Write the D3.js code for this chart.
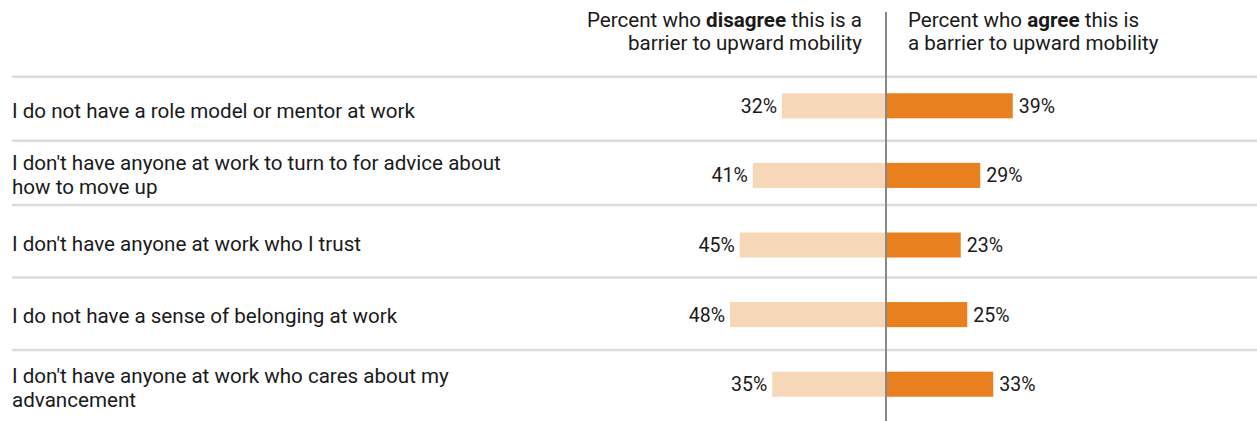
<!DOCTYPE html>
<html>
<head>
<meta charset="utf-8">
<script src="https://cdn.jsdelivr.net/npm/d3@7"></script>
<style>
  html, body { margin: 0; padding: 0; background: #fff; }
  svg { display: block; font-family: Roboto, "Liberation Sans", Arial, sans-serif; }
</style>
</head>
<body>
<svg id="chart" width="1257" height="421"></svg>
<script>
// ---- data ----
const categories = [
  "I do not have a role model or mentor at work",
  "I don't have anyone at work to turn to for advice about how to move up",
  "I don't have anyone at work who I trust",
  "I do not have a sense of belonging at work",
  "I don't have anyone at work who cares about my advancement"
];
const categoryLines = [
  ["I do not have a role model or mentor at work"],
  ["I don't have anyone at work to turn to for advice about", "how to move up"],
  ["I don't have anyone at work who I trust"],
  ["I do not have a sense of belonging at work"],
  ["I don't have anyone at work who cares about my", "advancement"]
];
const disagreeValues = [32, 41, 45, 48, 35];
const agreeValues = [39, 29, 23, 25, 33];
const headerDisagree = [["Percent who ", "disagree", " this is a"], ["barrier to upward mobility"]];
const headerAgree = [["Percent who ", "agree", " this is"], ["a barrier to upward mobility"]];

// ---- layout ----
const W = 1257, H = 421;
const cx = 886;
const pxPerPct = 3.25;
const rowSeps = [76.7, 140.7, 205, 277.5, 350, 421];
const fontSize = 20.6, valueFont = 19.5;
const colors = { disagree: "#f6d8b9", agree: "#e8801f", sep: "#dcdcdc", axis: "#888888", text: "#1a1a1a" };

const svg = d3.select("#chart");

const x = d3.scaleLinear().domain([-50, 50]).range([cx - 50 * pxPerPct, cx + 50 * pxPerPct]);
const y = d3.scaleBand().domain(categories).range([71, 419]).paddingInner(0.64).paddingOuter(0.32);

// separators
svg.append("g").selectAll("line").data(rowSeps.slice(0, 5)).join("line")
  .attr("x1", 12).attr("x2", W)
  .attr("y1", d => d).attr("y2", d => d)
  .attr("stroke", colors.sep).attr("stroke-width", 2.5);

// category labels
const lh = 24;
const capHalf = fontSize * 0.711 / 2;
const lab = svg.append("g").attr("fill", colors.text).attr("font-size", fontSize);
categories.forEach((c, i) => {
  const lines = categoryLines[i];
  const mid = (rowSeps[i] + rowSeps[i + 1]) / 2 + 2;
  const t = lab.append("text").attr("x", 12);
  lines.forEach((ln, j) => {
    t.append("tspan").attr("x", 12)
      .attr("y", mid + capHalf + (j - (lines.length - 1) / 2) * lh)
      .text(ln);
  });
});

// bars
const rows = categories.map((c, i) => ({ c, dis: disagreeValues[i], agr: agreeValues[i] }));
svg.append("g").selectAll("rect").data(rows).join("rect")
  .attr("x", d => x(-d.dis)).attr("width", d => x(0) - x(-d.dis))
  .attr("y", d => y(d.c)).attr("height", y.bandwidth())
  .attr("fill", colors.disagree);
svg.append("g").selectAll("rect").data(rows).join("rect")
  .attr("x", x(0)).attr("width", d => x(d.agr) - x(0))
  .attr("y", d => y(d.c)).attr("height", y.bandwidth())
  .attr("fill", colors.agree);

// value labels
const vCap = valueFont * 0.711 / 2;
const vl = svg.append("g").attr("fill", colors.text).attr("font-size", valueFont);
vl.selectAll("text.d").data(rows).join("text").attr("class", "d")
  .attr("x", d => x(-d.dis) - 5).attr("y", d => y(d.c) + y.bandwidth() / 2 + vCap)
  .attr("text-anchor", "end").text(d => d.dis + "%");
vl.selectAll("text.a").data(rows).join("text").attr("class", "a")
  .attr("x", d => x(d.agr) + 6).attr("y", d => y(d.c) + y.bandwidth() / 2 + vCap)
  .attr("text-anchor", "start").text(d => d.agr + "%");

// center line
svg.append("line").attr("x1", cx).attr("x2", cx).attr("y1", 12).attr("y2", H)
  .attr("stroke", colors.axis).attr("stroke-width", 2);

// headers
function header(lines, xPos, anchor) {
  const g = svg.append("g").attr("fill", colors.text).attr("font-size", fontSize);
  lines.forEach((parts, j) => {
    const t = g.append("text").attr("x", xPos).attr("y", 27 + j * 22.5).attr("text-anchor", anchor);
    parts.forEach((p, k) => {
      t.append("tspan").text(p).attr("font-weight", (parts.length === 3 && k === 1) ? "bold" : null);
    });
  });
}
header(headerDisagree, 862, "end");
header(headerAgree, 908, "start");
</script>
</body>
</html>
